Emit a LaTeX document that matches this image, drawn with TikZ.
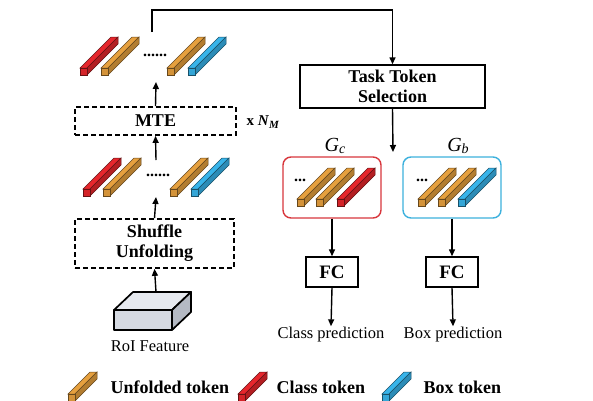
\documentclass[tikz,border=0pt]{standalone}
\usepackage{fontspec}
\setmainfont{Liberation Serif}
\usetikzlibrary{arrows.meta,positioning}

\definecolor{tokorange}{HTML}{E6A03E}
\definecolor{tokred}{HTML}{E6262C}
\definecolor{tokblue}{HTML}{38B4EA}
\definecolor{grpred}{HTML}{D8363C}
\definecolor{grpblue}{HTML}{3DB1DD}
\definecolor{roifront}{HTML}{D6DAE2}
\definecolor{roitop}{HTML}{E6E9EF}
\definecolor{roiside}{HTML}{B4B9C3}

% one token: front corner (#2,#3), colour #4, length #1
\newcommand{\tokbar}[4][31]{%
  \filldraw[fill=#4, draw=#4!45!black, line width=0.5pt]
    (#2,#3-7) -- ++(7,0) -- ++(#1,-#1) -- ++(-7,0) -- cycle;
  \filldraw[fill=#4!78!black, draw=#4!45!black, line width=0.5pt]
    (#2+7,#3) -- ++(0,-7) -- ++(#1,-#1) -- ++(0,7) -- cycle;
  \filldraw[fill=#4!92!black, draw=#4!45!black, line width=0.5pt]
    (#2,#3) rectangle ++(7,-7);
}

\tikzset{
  arr/.style={line width=1.4pt, -{Triangle[length=7pt,width=6pt]}},
  dashbox/.style={draw, dashed, dash pattern=on 5pt off 3pt, line width=1.7pt,
    font=\fontsize{18}{20}\selectfont\bfseries, align=center},
  solidbox/.style={draw, line width=1.4pt, font=\fontsize{18}{20}\selectfont\bfseries,
    align=center},
  group/.style={draw, rounded corners=8pt, line width=1.4pt, minimum width=98pt,
    minimum height=61pt},
  plain/.style={font=\fontsize{16.5}{18}\selectfont},
  legend/.style={font=\fontsize{18}{20}\selectfont\bfseries, anchor=west},
  dots/.style={font=\fontsize{16}{18}\selectfont\bfseries},
}

\begin{document}
\begin{tikzpicture}[x=1pt, y=-1pt]
  \useasboundingbox[fill=white] (0,0) rectangle (593,400);

  % left column
  \node[dashbox, minimum width=161pt, minimum height=28pt] (mte) at (155.5,121) {MTE};
  \node[dashbox, minimum width=159pt, minimum height=49pt, inner sep=1pt] (shuffle) at (154.5,243.5) {Shuffle\\Unfolding};
  \node[font=\fontsize{15}{16}\selectfont\bfseries, anchor=west] (rep) at (243,122) {x \textit{N}\raisebox{-0.5ex}{\fontsize{11}{12}\selectfont\textit{M}}};

  \tokbar{80}{75}{tokred}
  \tokbar{101}{75}{tokorange}
  \tokbar{167}{75}{tokorange}
  \tokbar{188}{75}{tokblue}
  \node[dots] (dots1) at (155,55) {......};

  \tokbar{83}{196}{tokred}
  \tokbar{103}{196}{tokorange}
  \tokbar{170}{196}{tokorange}
  \tokbar{191}{196}{tokblue}
  \node[dots] (dots2) at (158,175) {......};

  % RoI feature box
  \filldraw[fill=roitop, line width=1.7pt, line join=round] (114,310) -- (133,292) -- (191,292) -- (172,310) -- cycle;
  \filldraw[fill=roiside, line width=1.7pt, line join=round] (172,310) -- (191,292) -- (191,312) -- (172,330) -- cycle;
  \filldraw[fill=roifront, line width=1.7pt, line join=round] (114,310) rectangle (172,330);
  \coordinate (roi) at (156,292);
  \node[plain] (roilabel) at (150,346) {RoI Feature};

  \coordinate (row1top) at (152,32);
  \coordinate (row1bot) at (156,82);
  \coordinate (row2top) at (156,160);
  \coordinate (row2bot) at (156,197);

  % right column
  \node[solidbox, minimum width=185pt, minimum height=43pt, inner sep=1pt] (tts) at (392.5,86.5) {Task Token\\Selection};
  \coordinate (split) at (393,152);

  \node[group, draw=grpred] (gc) at (332,187.5) {};
  \node[group, draw=grpblue] (gb) at (452,187.5) {};
  \node[font=\fontsize{20}{20}\selectfont] (gclabel) at (335,146) {\textit{G}\raisebox{-0.3ex}{\fontsize{14}{14}\selectfont\textit{c}}};
  \node[font=\fontsize{20}{20}\selectfont] (gblabel) at (458,146) {\textit{G}\raisebox{-0.3ex}{\fontsize{14}{14}\selectfont\textit{b}}};

  \node[dots] (dotsc) at (300,180) {...};
  \tokbar{297}{206}{tokorange}
  \tokbar{316}{206}{tokorange}
  \tokbar{337}{206}{tokred}
  \node[dots] (dotsb) at (422,180) {...};
  \tokbar{418}{206}{tokorange}
  \tokbar{438}{206}{tokorange}
  \tokbar{458}{206}{tokblue}

  \node[solidbox, font=\fontsize{19}{20}\selectfont\bfseries, minimum width=52pt, minimum height=30pt] (fcc) at (332,272) {FC};
  \node[solidbox, font=\fontsize{19}{20}\selectfont\bfseries, minimum width=52pt, minimum height=30pt] (fcb) at (452,272) {FC};
  \node[plain, inner sep=1pt] (clsp) at (331,335) {Class prediction};
  \node[plain, inner sep=1pt] (boxp) at (453,335) {Box prediction};

  % connectors
  \draw[arr] (row1top) -- ++(0,-22) -| (tts.north);
  \draw[arr] (mte.north) -- (row1bot);
  \draw[arr] (row2top) -- (mte.south);
  \draw[arr] (shuffle.north) -- (row2bot);
  \draw[arr] (roi) -- (shuffle.south);
  \draw[arr] (tts.south) -- (split);
  \draw[arr] (gc.south) -- (fcc.north);
  \draw[arr] (gb.south) -- (fcb.north);
  \draw[arr] (fcc.south) -- (clsp.north);
  \draw[arr] (fcb.south) -- (boxp.north);

  % legend
  \tokbar[22]{68}{401}{tokorange}
  \node[legend] (legu) at (107,387) {Unfolded token};
  \tokbar[22]{238}{401}{tokred}
  \node[legend] (legc) at (273,387) {Class token};
  \tokbar[22]{382}{401}{tokblue}
  \node[legend] (legb) at (420,387) {Box token};
\end{tikzpicture}
\end{document}
